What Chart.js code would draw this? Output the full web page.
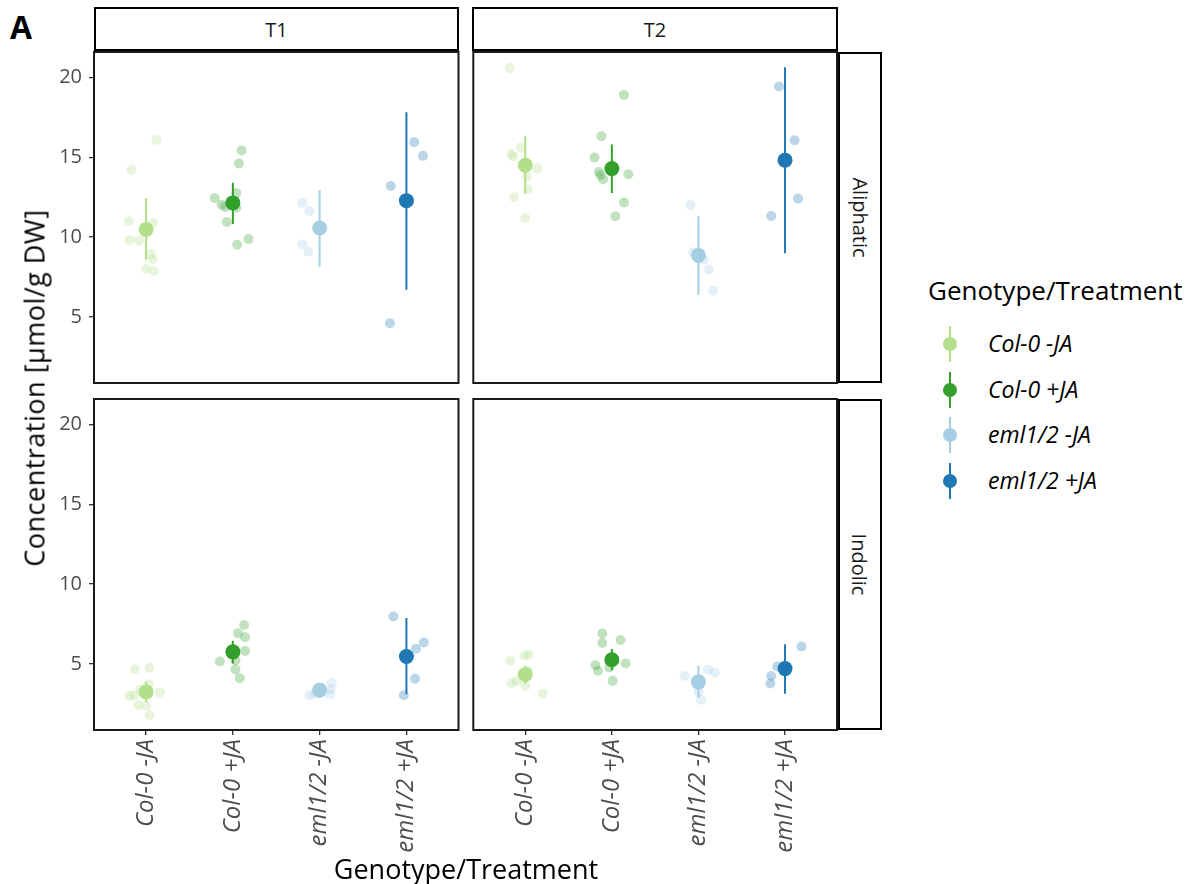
<!DOCTYPE html>
<html>
<head>
<meta charset="utf-8">
<script src="https://cdn.jsdelivr.net/npm/chart.js@4.4.1/dist/chart.umd.min.js"></script>
<style>
  body { margin: 0; background: #fff; font-family: "Open Sans", sans-serif; }
  #wrap { position: relative; width: 1192px; height: 884px; overflow: hidden; }
  canvas { position: absolute; }
  .strip { position: absolute; box-sizing: border-box; border: 2px solid #000; background: #fff;
           display: flex; align-items: center; justify-content: center; font-size: 20px; color: #1a1a1a; }
  .strip.side span { transform: rotate(90deg); white-space: nowrap; }
  .title { position: absolute; font-size: 27px; color: #000; white-space: nowrap; }
  #legend { position: absolute; left: 928px; top: 272px; }
  #legend .lt { font-size: 26px; margin-bottom: 14px; }
  .item { position: relative; height: 45.6px; }
  .item .ln { position: absolute; left: 21px; top: 4px; width: 2px; height: 36px; }
  .item .dot { position: absolute; left: 15px; top: 15px; width: 14px; height: 14px; border-radius: 50%; }
  .item .lb { position: absolute; left: 60px; top: 5px; font-size: 23px; font-style: italic; color: #000; white-space: nowrap; }
</style>
</head>
<body>
<div id="wrap">
  <div class="title" style="left:10px;top:5px;font-weight:bold;font-size:32px;">A</div>

  <div class="strip" style="left:94px;top:7px;width:365px;height:44px;">T1</div>
  <div class="strip" style="left:472px;top:7px;width:366px;height:44px;">T2</div>
  <div class="strip side" style="left:838px;top:52px;width:44px;height:331px;"><span>Aliphatic</span></div>
  <div class="strip side" style="left:838px;top:399px;width:44px;height:331px;"><span>Indolic</span></div>

  <canvas id="c_ali_t1" width="466" height="346" style="left:0;top:44px;"></canvas>
  <canvas id="c_ali_t2" width="380" height="346" style="left:466px;top:44px;"></canvas>
  <canvas id="c_ind_t1" width="466" height="493" style="left:0;top:391px;"></canvas>
  <canvas id="c_ind_t2" width="380" height="493" style="left:466px;top:391px;"></canvas>

  <div class="title" id="ytitle" style="left:34px;top:388px;letter-spacing:0.5px;transform:translate(-50%,-50%) rotate(-90deg);">Concentration [µmol/g DW]</div>
  <div class="title" id="xtitle" style="left:466px;top:868px;transform:translate(-50%,-50%);">Genotype/Treatment</div>

  <div id="legend"><div class="lt">Genotype/Treatment</div></div>
</div>

<script>
const groups = ['Col-0 -JA', 'Col-0 +JA', 'eml1/2 -JA', 'eml1/2 +JA'];
const colors = ['#b2df8a', '#33a02c', '#a6cee3', '#1f78b4'];
const yTicks = [5, 10, 15, 20];

// Aliphatic, T1
const aliT1Mean = [10.48, 12.14, 10.57, 12.28];
const aliT1Lo = [8.58, 10.82, 8.14, 6.70];
const aliT1Hi = [12.45, 13.41, 12.93, 17.83];
const aliT1Raw = [
  [16.09, 14.21, 10.99, 10.88, 9.79, 9.79, 8.93, 8.62, 8.01, 7.87],
  [15.42, 14.61, 12.76, 12.45, 12.03, 11.89, 11.83, 10.94, 9.87, 9.52],
  [12.14, 11.61, 9.54, 9.08],
  [15.95, 15.09, 13.20, 4.60]
];
const aliT1Jit = [
  [0.12, -0.17, -0.20, 0.08, -0.19, -0.08, 0.05, 0.08, 0.00, 0.09],
  [0.10, 0.07, 0.04, -0.21, -0.13, -0.09, 0.04, -0.07, 0.18, 0.05],
  [-0.20, -0.12, -0.20, -0.13],
  [0.09, 0.19, -0.18, -0.19]
];

// Aliphatic, T2
const aliT2Mean = [14.50, 14.29, 8.85, 14.82];
const aliT2Lo = [12.72, 12.76, 6.38, 8.98];
const aliT2Hi = [16.32, 15.80, 11.30, 20.65];
const aliT2Raw = [
  [20.59, 15.61, 15.19, 15.07, 14.29, 13.77, 12.98, 12.49, 11.19],
  [18.91, 16.32, 14.98, 14.08, 13.87, 13.62, 13.94, 12.16, 11.30],
  [12.01, 9.04, 8.58, 7.97, 6.63],
  [19.44, 16.07, 12.41, 11.32]
];
const aliT2Jit = [
  [-0.18, -0.05, -0.16, -0.14, 0.14, 0.02, 0.03, -0.13, 0.00],
  [0.14, -0.12, -0.20, -0.15, -0.13, -0.10, 0.19, 0.14, 0.04],
  [-0.09, -0.06, 0.06, 0.12, 0.17],
  [-0.07, 0.11, 0.15, -0.16]
];

// Indolic, T1
const indT1Mean = [3.24, 5.75, 3.35, 5.46];
const indT1Lo = [2.61, 5.02, 2.86, 3.09];
const indT1Hi = [3.87, 6.44, 3.78, 7.87];
const indT1Raw = [
  [4.66, 4.75, 3.70, 3.20, 2.99, 2.99, 3.37, 2.40, 2.38, 1.78],
  [7.43, 6.92, 6.67, 5.81, 5.14, 5.23, 4.64, 4.10],
  [3.78, 3.41, 3.09, 3.03, 3.13],
  [7.97, 6.33, 5.94, 4.06, 3.03]
];
const indT1Jit = [
  [-0.13, 0.04, 0.03, 0.16, -0.19, -0.14, -0.07, -0.09, 0.00, 0.04],
  [0.13, 0.06, 0.14, 0.14, -0.15, 0.03, 0.03, 0.08],
  [0.14, 0.13, 0.12, -0.12, -0.06],
  [-0.15, 0.20, 0.11, 0.10, -0.03]
];

// Indolic, T2
const indT2Mean = [4.33, 5.25, 3.87, 4.70];
const indT2Lo = [3.76, 4.60, 2.88, 3.13];
const indT2Hi = [4.87, 5.92, 4.87, 6.23];
const indT2Raw = [
  [5.19, 5.52, 5.56, 3.78, 3.93, 3.62, 3.13, 4.54],
  [6.90, 6.30, 6.49, 5.02, 4.91, 4.56, 4.77, 3.93],
  [4.24, 4.62, 4.45, 3.24, 2.74],
  [6.08, 4.83, 4.24, 3.76]
];
const indT2Jit = [
  [-0.17, -0.01, 0.04, -0.16, -0.10, 0.00, 0.20, 0.03],
  [-0.11, -0.11, 0.10, 0.16, -0.19, -0.16, -0.03, 0.01],
  [-0.16, 0.11, 0.19, 0.00, 0.03],
  [0.19, -0.09, -0.16, -0.17]
];

const FONT = "'Open Sans', sans-serif";

function fade(hex, a) {
  const n = parseInt(hex.slice(1), 16);
  return `rgba(${(n >> 16) & 255}, ${(n >> 8) & 255}, ${n & 255}, ${a})`;
}

// black frame around each facet panel
const panelBorder = {
  id: 'panelBorder',
  afterDraw(chart) {
    const a = chart.chartArea, ctx = chart.ctx;
    ctx.save();
    ctx.strokeStyle = '#1a1a1a';
    ctx.lineWidth = 2;
    ctx.strokeRect(a.left, a.top, a.right - a.left, a.bottom - a.top);
    ctx.restore();
  }
};

function makePanel(id, mean, lo, hi, raw, jit, showX, showY, padding) {
  const datasets = [];
  datasets.push({
    data: mean.map((m, i) => ({ x: i + 1, y: m })),
    pointBackgroundColor: colors,
    pointRadius: 7.5,
    pointBorderWidth: 0,
    order: 0
  });
  groups.forEach((g, i) => {
    datasets.push({
      data: [{ x: i + 1, y: lo[i] }, { x: i + 1, y: hi[i] }],
      showLine: true,
      borderColor: colors[i],
      borderWidth: 2,
      pointRadius: 0,
      order: 1
    });
    datasets.push({
      data: raw[i].map((v, k) => ({ x: i + 1 + jit[i][k], y: v })),
      pointBackgroundColor: fade(colors[i], 0.3),
      pointRadius: 5,
      pointBorderWidth: 0,
      order: 2
    });
  });

  new Chart(document.getElementById(id), {
    type: 'scatter',
    data: { datasets: datasets },
    plugins: [panelBorder],
    options: {
      responsive: false,
      animation: false,
      events: [],
      layout: { padding: padding, autoPadding: false },
      plugins: { legend: { display: false }, tooltip: { enabled: false } },
      scales: {
        x: {
          type: 'linear',
          min: 0.4,
          max: 4.6,
          display: showX,
          afterBuildTicks: s => { s.ticks = groups.map((g, i) => ({ value: i + 1 })); },
          afterFit: s => {
            if (!showX) return;
            s.height = 154; s.paddingLeft = 0; s.paddingRight = 0;
          },
          ticks: {
            callback: (v, i) => groups[i],
            minRotation: 90,
            maxRotation: 90,
            autoSkip: false,
            padding: 4,
            color: '#4d4d4d',
            font: { family: FONT, size: 24, style: 'italic' }
          },
          grid: { drawOnChartArea: false, tickLength: 5, color: '#333', lineWidth: 1.3 },
          border: { display: false }
        },
        y: {
          type: 'linear',
          min: 0.85,
          max: 21.6,
          display: showY,
          afterBuildTicks: s => { s.ticks = yTicks.map(v => ({ value: v })); },
          afterFit: s => {
            if (!showY) return;
            s.width = 94; s.paddingTop = 0; s.paddingBottom = 0;
          },
          ticks: {
            padding: 7,
            color: '#4d4d4d',
            font: { family: FONT, size: 20 }
          },
          grid: { drawOnChartArea: false, tickLength: 5, color: '#333', lineWidth: 1.3 },
          border: { display: false }
        }
      }
    }
  });
}

makePanel('c_ali_t1', aliT1Mean, aliT1Lo, aliT1Hi, aliT1Raw, aliT1Jit, false, true,
  { top: 8, right: 7.5, bottom: 7, left: 0 });
makePanel('c_ali_t2', aliT2Mean, aliT2Lo, aliT2Hi, aliT2Raw, aliT2Jit, false, false,
  { top: 8, right: 9, bottom: 7, left: 7.3 });
makePanel('c_ind_t1', indT1Mean, indT1Lo, indT1Hi, indT1Raw, indT1Jit, true, true,
  { top: 8, right: 7.5, bottom: 0, left: 0 });
makePanel('c_ind_t2', indT2Mean, indT2Lo, indT2Hi, indT2Raw, indT2Jit, true, false,
  { top: 8, right: 9, bottom: 0, left: 7.3 });

// legend
const legend = document.getElementById('legend');
groups.forEach((g, i) => {
  const item = document.createElement('div');
  item.className = 'item';
  item.innerHTML = `<div class="ln" style="background:${colors[i]}"></div>` +
    `<div class="dot" style="background:${colors[i]}"></div>` +
    `<div class="lb">${g}</div>`;
  legend.appendChild(item);
});
</script>
</body>
</html>
